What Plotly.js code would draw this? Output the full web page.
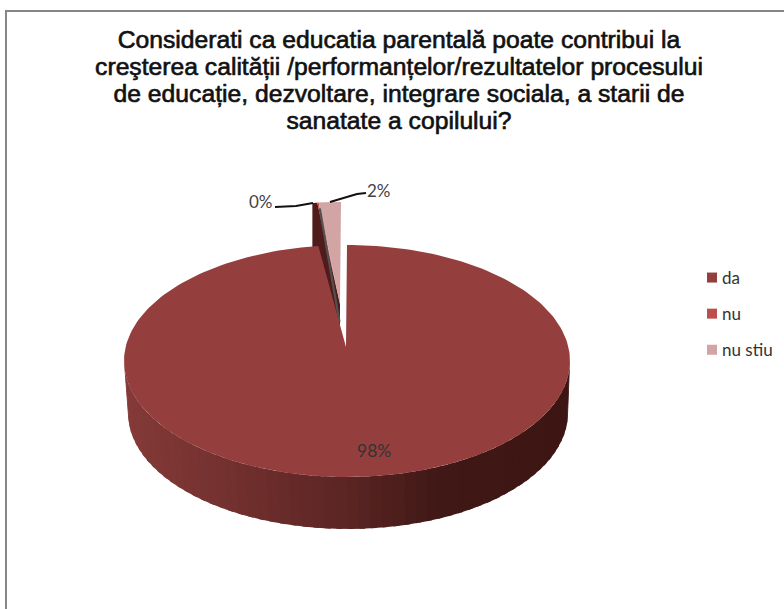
<!DOCTYPE html>
<html><head><meta charset="utf-8">
<script src="https://cdn.plot.ly/plotly-3.0.1.min.js"></script>
<style>html,body{margin:0;padding:0;background:#fff}#c{width:784px;height:609px}
.gtitle{stroke:#111;stroke-width:.65px}</style>
</head><body><div id="c"></div>
<script>
const categories = ['da', 'nu', 'nu stiu'];
const shares = [97.95, 0.45, 1.6];
const colors = ['#943f3e', '#bc4f4d', '#d2a5a4'];
const titleLines = ['Considerati ca educatia parentală poate contribui la',
  'creşterea calității /performanțelor/rezultatelor procesului',
  'de educație, dezvoltare, integrare sociala, a starii de',
  'sanatate a copilului?'];

const main = {apx:346, apy:347, cx:347, cy:361, a:223, b:116};
const rest = {apx:340, apy:304, cx:341, cy:318, a:223, b:116};
const rim = {cx:348, cy:413, a:220, b:116};
const rad = d => d*Math.PI/180;
const pt = (e,t) => [e.cx + e.a*Math.sin(rad(t)), e.cy - e.b*Math.cos(rad(t))];
function sector(e,t0,t1){
  const xs=[e.apx], ys=[e.apy];
  const n=Math.max(2,Math.ceil(Math.abs(t1-t0)/1.5));
  for(let i=0;i<=n;i++){const p=pt(e,t0+(t1-t0)*i/n);xs.push(p[0]);ys.push(p[1]);}
  xs.push(e.apx);ys.push(e.apy);
  return {xs,ys};
}
function poly(xs,ys,color){
  return {type:'scatter',mode:'lines',x:xs,y:ys,fill:'toself',fillcolor:color,
    line:{color:color,width:0},hoverinfo:'skip',showlegend:false};
}
const wallStops=[[128,[131,58,56]],[228,[115,48,46]],[348,[90,37,35]],[440,[64,24,22]],[568,[61,22,20]]];
function wallColor(x){
  for(let i=0;i<wallStops.length-1;i++){
    const [x0,c0]=wallStops[i],[x1,c1]=wallStops[i+1];
    if(x<=x1){const f=Math.max(0,(x-x0)/(x1-x0));
      return 'rgb('+c0.map((v,k)=>Math.round(v+(c1[k]-v)*f)).join(',')+')';}
  }
  return 'rgb(61,22,20)';
}
const traces=[];
// outer wall of the large slice: strips from the left edge to the right edge, each overlapping the next
const step=3;
for(let t=270;t>90;t-=step){
  const t2=Math.max(90,t-step-1.5);
  const a=pt(main,t),b=pt(main,t2),c=pt(rim,t2),d=pt(rim,t);
  traces.push(poly([a[0],b[0],c[0],d[0],a[0]],[a[1],b[1],c[1],d[1],a[1]],wallColor((a[0]+pt(main,t-step)[0])/2)));
}
// detached small slices
const tMain=shares[0]*3.6;             // large slice sweep
const tNu=tMain+shares[1]*3.6;
const darkEnd=tMain+1.28;
const d1=pt(rest,tMain),d2=pt(rest,darkEnd);
const depth=52;
traces.push(poly([d1[0],d2[0],rest.apx,rest.apx,d1[0],d1[0]],
                 [d1[1],d2[1],rest.apy,rest.apy+depth,d1[1]+depth,d1[1]],'#4f1c1b'));
const sNu=sector(rest,darkEnd,tNu);
traces.push(poly(sNu.xs,sNu.ys,colors[1]));
const sSt=sector(rest,tNu,360);
traces.push(poly(sSt.xs,sSt.ys,colors[2]));
const g=pt(rest,tNu+0.3);
traces.push({type:'scatter',mode:'lines',x:[g[0],rest.apx-0.5],y:[g[1]+6,rest.apy+18],
  line:{color:'#555050',width:2.2},hoverinfo:'skip',showlegend:false});
// top of the large slice
const sDa=sector(main,0,tMain);
traces.push(poly(sDa.xs,sDa.ys,colors[0]));
// legend entries
categories.forEach((c,i)=>traces.push({type:'scatter',mode:'markers',x:[null],y:[null],name:c,
  legendgroup:c,marker:{symbol:'square',size:10,color:colors[i]},hoverinfo:'skip'}));

const pct=v=>Math.round(v)+'%';
const layout={
  width:784,height:609,margin:{l:0,r:0,t:0,b:0,autoexpand:false},paper_bgcolor:'#fff',plot_bgcolor:'#fff',
  font:{family:'Lato, sans-serif',color:'#222'},
  xaxis:{range:[0,784],visible:false,fixedrange:true},
  yaxis:{range:[609,0],visible:false,fixedrange:true},
  title:{text:titleLines.join('<br>'),x:399/784,xanchor:'center',y:1-28/609,yanchor:'top',
    font:{family:'Liberation Sans, Arial, sans-serif',size:24.7,color:'#111'}},
  legend:{x:682/784,xanchor:'left',y:1-260/609,yanchor:'top',tracegroupgap:11,itemwidth:30,
    font:{family:'Lato, sans-serif',size:17,color:'#333'},bgcolor:'rgba(0,0,0,0)'},
  annotations:[
    {x:374,y:450,text:pct(shares[0]),showarrow:false,font:{size:17.5,color:'#333'}},
    {x:261,y:201,text:pct(shares[1]),showarrow:false,font:{size:17,color:'#444'}},
    {x:379,y:190,text:pct(shares[2]),showarrow:false,font:{size:17,color:'#444'}}
  ],
  shapes:[
    {type:'rect',x0:6,y0:11,x1:900,y1:800,line:{color:'#868686',width:2},layer:'below'},
    {type:'path',path:'M275,207 L296,206 L313,203',line:{color:'#111',width:2}},
    {type:'path',path:'M330,202 L357,194 L366,193',line:{color:'#111',width:2}}
  ]
};
Plotly.newPlot('c',traces,layout,{displayModeBar:false,staticPlot:true}).then(()=>{
  document.querySelectorAll('.gtitle tspan.line').forEach((el,i)=>{
    el.setAttribute('dy','0');
    el.setAttribute('y', 48+27*i);
  });
  document.querySelectorAll('.legend .legendpoints').forEach(el=>el.setAttribute('transform','translate(10,0)'));
});
</script></body></html>
